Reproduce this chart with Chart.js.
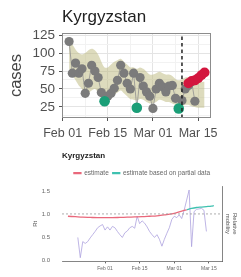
<!DOCTYPE html>
<html><head><meta charset="utf-8">
<script src="https://cdn.jsdelivr.net/npm/chart.js@4.4.1/dist/chart.umd.min.js"></script>
<style>
html,body{margin:0;padding:0;background:#fff;width:241px;height:277px;overflow:hidden;}
#top{position:absolute;left:0;top:0;}
#bot{position:absolute;left:0;top:145px;}
</style></head><body>
<canvas id="top" width="241" height="145"></canvas>
<canvas id="bot" width="241" height="132"></canvas>
<script>
const country = 'Kyrgyzstan';
// x values are days since Feb 01
const xTickDays = [0, 14, 28, 42];
const xTickLabels = ['Feb 01', 'Feb 15', 'Mar 01', 'Mar 15'];

// ---- top panel: cases ----
const caseDays = [2,3,4,5,6,7,8,9,10,11,12,13,14,15,16,17,18,19,20,21,22,23,24,25,26,27,28,29,30,31,32,33,34,35,36,37,38,39,40,41];
const caseValues = [116,72,86,72,78,44,58,83,75,66,45,33,40,44,51,62,83,72,58,50,72,24,66,54,46,40,23,50,58,53,46,54,55,37,23,34,50,55,60,33];
const flaggedDays = [13, 23, 36];
const flaggedValues = [33, 24, 23];
const forecastDays = [39,40,41,42,43,44];
const forecastValues = [58,61,62,65,69,73];
const bandDays = [2,3,4,5,6,7,8,9,10,11,12,13,14,15,16,17,18,19,20,21,22,23,24,25,26,27,28,29,30,31,32,33,34,35,36,37,38,39,40,41,42,43,44];
const bandUpper = [120,112,105,100,98,100,104,106,104,98,88,80,80,84,88,90,92,88,84,80,80,78,80,78,74,70,70,72,74,72,70,70,68,64,62,64,66,66,64,64,62,60,60];
const bandLower = [78,70,62,55,50,45,45,48,50,45,40,35,35,38,42,45,48,44,40,36,35,34,36,35,32,30,30,32,35,34,32,32,30,28,26,26,28,28,26,25,24,24,24];
const forecastDate = 37;
const caseTickValues = [25, 50, 75, 100, 125];
const caseTickLabels = ['25', '50', '75', '100', '125'];
const caseMin = 9.7, caseMax = 127.8;

// ---- bottom panel: Rt ----
const estDays = [-15,-12,-9,-6,-3,0,3,6,9,12,15,18,21,24,27,29,31,33];
const estValues = [0.95,0.94,0.93,0.925,0.92,0.92,0.92,0.925,0.93,0.935,0.94,0.95,0.96,0.98,1.0,1.03,1.06,1.09];
const partialDays = [33,35,37,39,41,43,44];
const partialValues = [1.09,1.12,1.14,1.15,1.16,1.17,1.18];
const mobDays = [-11,-10,-9,-8,-7,-6,-5,-4,-3,-2,-1,0,1,2,3,4,5,6,7,8,9,10,11,12,13,14,15,16,17,18,19,20,21,22,23,24,25,26,27,28,29,30,31,32,33,34,35,36,37,38,39,40,41];
const mobValues = [0.49,0.05,0.40,0.36,0.40,0.48,0.55,0.62,0.70,0.74,0.77,0.65,0.72,0.65,0.73,0.70,0.62,0.55,0.49,0.59,0.63,0.70,0.73,0.69,0.95,0.79,0.85,0.80,0.72,0.62,0.55,0.49,0.55,0.45,0.30,0.45,0.58,0.70,0.88,0.95,0.92,0.98,0.90,1.08,1.30,1.52,0.29,1.05,1.10,1.11,1.12,1.08,0.62];
const rtThreshold = 1;
const rtTickValues = [0, 0.5, 1.0, 1.5];
const rtTickLabels = ['0.0', '0.5', '1.0', '1.5'];
const rtMin = -0.03, rtMax = 1.6;
const botXMin = -17.4, botXMax = 47.3;

const FONT = "'Liberation Sans', Arial, sans-serif";
Chart.defaults.font.family = FONT;
const pts = (xs, ys) => xs.map((x, i) => ({x: x, y: ys[i]}));
const isMajorX = v => xTickDays.indexOf(v) >= 0;
const isMajorY = v => caseTickValues.indexOf(v) >= 0;
const midpoints = a => a.slice(1).map((v, i) => (v + a[i]) / 2);
const xGridTop = xTickDays.concat(midpoints(xTickDays)).sort((a, b) => a - b);
const yGridTop = caseTickValues.concat(midpoints([0].concat(caseTickValues))).sort((a, b) => a - b);

const panelBorder = {
  id: 'panelBorder',
  afterDraw(chart) {
    const a = chart.chartArea, c = chart.ctx;
    c.save(); c.strokeStyle = '#8c8c8c'; c.lineWidth = 1;
    c.strokeRect(Math.round(a.left) + 0.5, Math.round(a.top) + 0.5, Math.round(a.right - a.left) - 1, Math.round(a.bottom - a.top) - 1);
    c.restore();
  }
};

new Chart(document.getElementById('top'), {
  type: 'scatter',
  data: { datasets: [
    { label: 'forecast date', type: 'line', data: [{x: forecastDate, y: caseMin}, {x: forecastDate, y: caseMax}],
      borderColor: '#222', borderDash: [3.5, 3], borderWidth: 1.5, pointRadius: 0, order: 0 },
    { label: 'nowcast', data: pts(forecastDays, forecastValues), backgroundColor: '#d3163e', pointRadius: 5, pointBorderWidth: 0, order: 1 },
    { label: 'flagged', data: pts(flaggedDays, flaggedValues), backgroundColor: '#1a9e77', pointRadius: 5.3, pointBorderWidth: 0, order: 2 },
    { label: 'cases', type: 'line', data: pts(caseDays, caseValues), showLine: true, borderColor: '#8f8f8f', borderWidth: 0.8,
      backgroundColor: '#7b7b7b', pointBackgroundColor: '#7b7b7b', pointRadius: 4.6, pointBorderWidth: 0, order: 3, tension: 0 },
    { label: 'upper', type: 'line', data: pts(bandDays, bandUpper), borderWidth: 0, pointRadius: 0, fill: '+1',
      backgroundColor: 'rgba(190,186,128,0.52)', tension: 0.35, order: 5 },
    { label: 'lower', type: 'line', data: pts(bandDays, bandLower), borderWidth: 0, pointRadius: 0, fill: false, tension: 0.35, order: 6 }
  ]},
  options: {
    responsive: false, animation: false,
    layout: { padding: { left: 0, right: 30, top: 0, bottom: 0 } },
    plugins: {
      legend: { display: false }, tooltip: { enabled: false },
      title: { display: true, text: country, align: 'start', fullSize: false, color: '#222',
        font: { family: FONT, size: 17, weight: 'normal' }, padding: { top: 7, bottom: 5.6 } }
    },
    scales: {
      x: { type: 'linear', min: -0.2, max: 46,
        afterBuildTicks: s => { s.ticks = xGridTop.map(v => ({value: v})); },
        afterFit: s => { s.height = 27; },
        ticks: { autoSkip: false, maxRotation: 0, minRotation: 0, padding: 5, color: '#505050', font: { size: 12.5 },
          callback: v => isMajorX(v) ? xTickLabels[xTickDays.indexOf(v)] : '' },
        grid: { color: c => isMajorX(c.tick.value) ? '#e4e4e4' : '#f2f2f2', lineWidth: 1, tickLength: 3,
          tickColor: c => isMajorX(c.tick.value) ? '#555' : 'rgba(0,0,0,0)' },
        border: { display: false } },
      y: { type: 'linear', min: caseMin, max: caseMax,
        afterBuildTicks: s => { s.ticks = yGridTop.map(v => ({value: v})); },
        afterFit: s => { s.width = 62; },
        ticks: { autoSkip: false, padding: 4, color: '#505050', font: { size: 13.5 },
          callback: v => isMajorY(v) ? caseTickLabels[caseTickValues.indexOf(v)] : '' },
        grid: { color: c => isMajorY(c.tick.value) ? '#e4e4e4' : '#f2f2f2', lineWidth: 1, tickLength: 3,
          tickColor: c => isMajorY(c.tick.value) ? '#555' : 'rgba(0,0,0,0)' },
        border: { display: false },
        title: { display: true, text: 'cases', color: '#444', font: { size: 16.5 }, padding: { top: 7, bottom: 0 } } }
    }
  },
  plugins: [panelBorder]
});

new Chart(document.getElementById('bot'), {
  type: 'line',
  data: { datasets: [
    { label: 'estimate', data: pts(estDays, estValues), borderColor: '#e9687b', backgroundColor: '#e9687b', borderWidth: 1.3, pointRadius: 0, tension: 0.3, order: 2 },
    { label: 'estimate based on partial data', data: pts(partialDays, partialValues), borderColor: '#3fc1b0', backgroundColor: '#3fc1b0', borderWidth: 1.3, pointRadius: 0, tension: 0.3, order: 2 },
    { label: 'mobility', data: pts(mobDays, mobValues), borderColor: '#ada2de', backgroundColor: '#ada2de', borderWidth: 0.8, pointRadius: 0, order: 3 },
    { label: 'threshold', data: [{x: botXMin, y: rtThreshold}, {x: botXMax, y: rtThreshold}], borderColor: '#9a9a9a', borderDash: [2, 2], borderWidth: 0.8, pointRadius: 0, order: 1 }
  ]},
  options: {
    responsive: false, animation: false,
    layout: { padding: 0 },
    plugins: {
      tooltip: { enabled: false },
      title: { display: true, text: country, align: 'start', fullSize: false, color: '#222',
        font: { family: FONT, size: 8, weight: 'bold' }, padding: { top: 6, bottom: 5.2 } },
      legend: { display: true, position: 'top', align: 'center', fullSize: false,
        labels: { filter: item => item.datasetIndex < 2, boxWidth: 7, boxHeight: 1, color: '#666',
          font: { size: 6.5 }, padding: 4 } }
    },
    scales: {
      x: { type: 'linear', min: botXMin, max: botXMax,
        afterBuildTicks: s => { s.ticks = xTickDays.map(v => ({value: v})); },
        afterFit: s => { s.height = 10; },
        ticks: { autoSkip: false, maxRotation: 0, padding: 2.5, color: '#666', font: { size: 5 },
          callback: v => xTickLabels[xTickDays.indexOf(v)] },
        grid: { drawOnChartArea: false, tickLength: 2, tickColor: '#666' },
        border: { display: true, color: '#666', width: 0.8 } },
      y: { type: 'linear', min: rtMin, max: rtMax,
        afterBuildTicks: s => { s.ticks = rtTickValues.map(v => ({value: v})); },
        afterFit: s => { s.width = 62; },
        ticks: { autoSkip: false, padding: 12, color: '#666', font: { size: 6 },
          callback: v => rtTickLabels[rtTickValues.indexOf(v)] },
        grid: { drawOnChartArea: false, drawTicks: false },
        border: { display: false },
        title: { display: true, text: 'Rt', color: '#555', font: { size: 6 }, padding: { top: 32, bottom: 0 } } },
      y2: { type: 'linear', position: 'right', min: rtMin, max: rtMax,
        afterFit: s => { s.width = 19; },
        ticks: { display: false },
        grid: { drawOnChartArea: false, drawTicks: false },
        border: { display: true, color: '#666', width: 0.8 },
        title: { display: true, text: ['Relative', 'mobility'], color: '#555', font: { size: 6 }, padding: { top: 3, bottom: 0 } } }
    }
  }
});
</script>
</body></html>
